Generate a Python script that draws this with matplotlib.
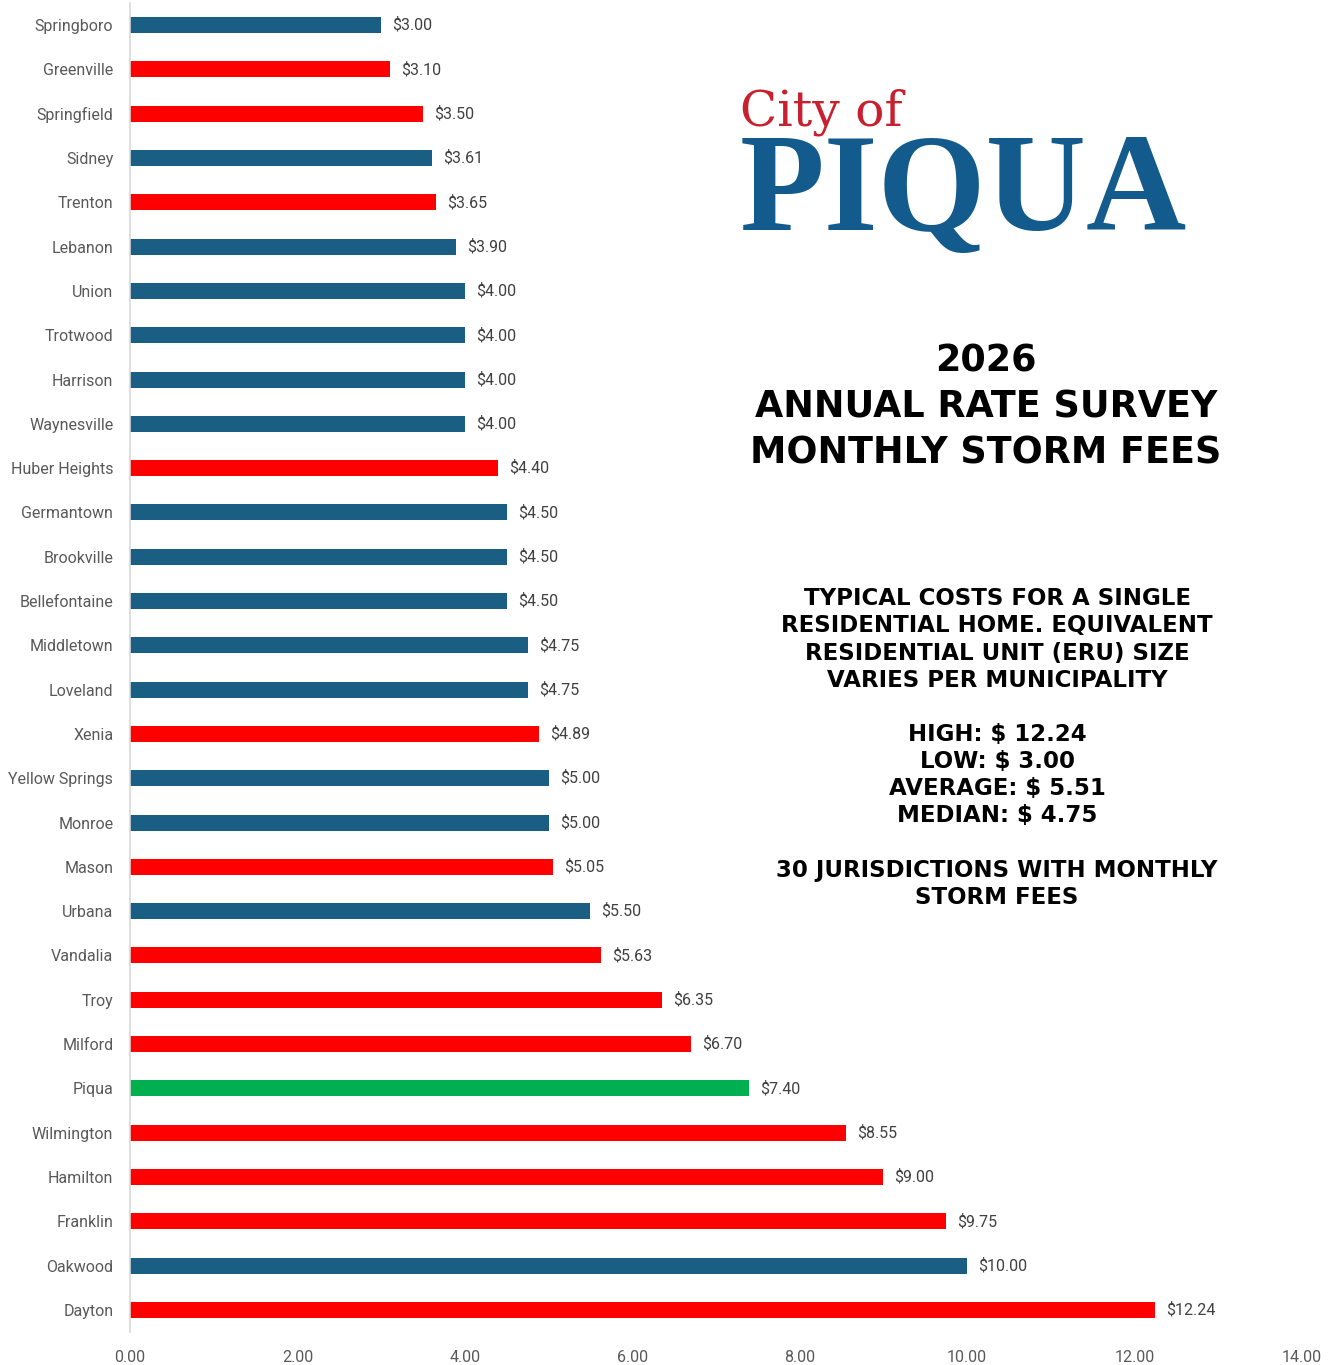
import matplotlib
matplotlib.use("Agg")
import matplotlib.pyplot as plt

cities = ["Springboro", "Greenville", "Springfield", "Sidney", "Trenton", "Lebanon",
          "Union", "Trotwood", "Harrison", "Waynesville", "Huber Heights", "Germantown",
          "Brookville", "Bellefontaine", "Middletown", "Loveland", "Xenia", "Yellow Springs",
          "Monroe", "Mason", "Urbana", "Vandalia", "Troy", "Milford", "Piqua",
          "Wilmington", "Hamilton", "Franklin", "Oakwood", "Dayton"]
fees = [3.00, 3.10, 3.50, 3.61, 3.65, 3.90, 4.00, 4.00, 4.00, 4.00, 4.40, 4.50,
        4.50, 4.50, 4.75, 4.75, 4.89, 5.00, 5.00, 5.05, 5.50, 5.63, 6.35, 6.70, 7.40,
        8.55, 9.00, 9.75, 10.00, 12.24]
groups = ["b", "r", "r", "b", "r", "b", "b", "b", "b", "b", "r", "b", "b", "b", "b",
          "b", "r", "b", "b", "r", "b", "r", "r", "r", "g", "r", "r", "r", "b", "r"]
palette = {"b": "#1a5f83", "r": "#ff0000", "g": "#00b050"}
xticks = [0, 2, 4, 6, 8, 10, 12, 14]

fig = plt.figure(figsize=(13.37, 13.65), dpi=100)
ax = fig.add_axes([130/1337, 1 - 1332/1365, (1302-130)/1337, (1332-3)/1365])

ypos = list(range(len(cities)))
ax.barh(ypos, fees, height=0.36, color=[palette[g] for g in groups])
ax.set_ylim(len(cities) - 0.5, -0.5)
ax.set_xlim(0, 14)
ax.set_yticks(ypos)
ax.set_yticklabels(cities, fontsize=11.5, color="#595959", family="Roboto")
ax.set_xticks(xticks)
ax.set_xticklabels([f"{t:.2f}" for t in xticks], fontsize=11.5, color="#595959", family="Roboto")
ax.tick_params(axis="y", length=0, pad=12)
ax.tick_params(axis="x", length=0, pad=13)
for s in ["top", "right", "bottom"]:
    ax.spines[s].set_visible(False)
ax.spines["left"].set_color("#d9d9d9")
ax.spines["left"].set_linewidth(1.2)

for y, v in zip(ypos, fees):
    ax.annotate(f"${v:.2f}", xy=(v, y), xytext=(8, 0), textcoords="offset points",
                va="center", ha="left", fontsize=11.5, color="#404040", family="Roboto")

# Logo
fig.text(740/1337, 1 - 112/1365, "City of", fontsize=35, color="#c8202f",
         family="DejaVu Serif", va="center", ha="left")
fig.text(740/1337, 1 - 230/1365, "PIQUA", fontsize=100, color="#125b8c",
         family="Liberation Serif", weight="bold", va="baseline", ha="left")

fig.text(986/1337, 1 - 407/1365, "2026\nANNUAL RATE SURVEY\nMONTHLY STORM FEES",
         fontsize=26.3, weight="bold", family="DejaVu Sans", ha="center", va="center",
         multialignment="center", linespacing=1.3, color="black")

info = ("TYPICAL COSTS FOR A SINGLE\nRESIDENTIAL HOME. EQUIVALENT\n"
        "RESIDENTIAL UNIT (ERU) SIZE\nVARIES PER MUNICIPALITY\n\n"
        "HIGH: $ 12.24\nLOW: $ 3.00\nAVERAGE: $ 5.51\nMEDIAN: $ 4.75\n\n"
        "30 JURISDICTIONS WITH MONTHLY\nSTORM FEES")
fig.text(997/1337, 1 - 748/1365, info, fontsize=16.5, weight="bold", family="DejaVu Sans",
         ha="center", va="center", multialignment="center", linespacing=1.23, color="black")

fig.savefig("out.png", dpi=100)
